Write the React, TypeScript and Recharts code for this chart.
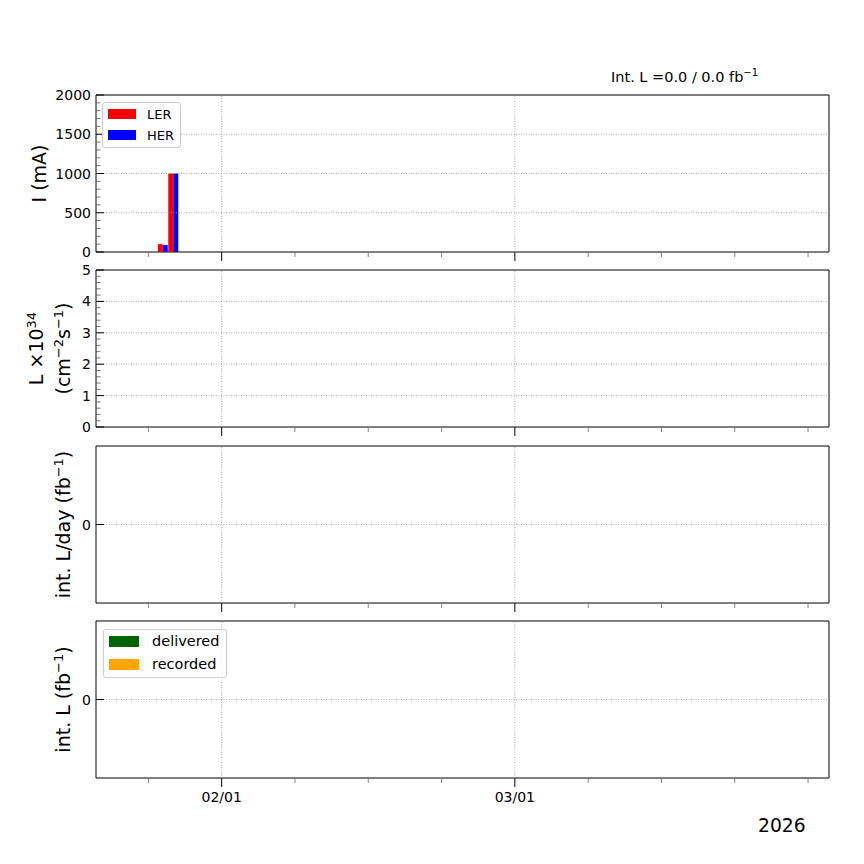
import type { ReactNode } from "react"
import {
  Bar,
  BarChart,
  Legend,
  ReferenceArea,
  ReferenceLine,
  XAxis,
  YAxis,
} from "recharts"

const FONT = "DejaVu Sans"
const INK = "#000"

// x is days counted from 2026-01-01 (day 0)
const xDomain: [number, number] = [19, 89]
const weekTicks = [24, 31, 38, 45, 52, 59, 66, 73, 80, 87]
const monthTicks = [31, 59]

// beam current (mA)
const currentDays = [25.4, 26.4]
const lerCurrent = [100, 1000]
const herCurrent = [88, 1000]

// luminosity / daily / integrated: nothing yet
const lumiDays: number[] = []
const lumiValues: number[] = []
const dailyDays: number[] = []
const dailyDelivered: number[] = []
const dailyRecorded: number[] = []
const intDays: number[] = []
const intDelivered: number[] = []
const intRecorded: number[] = []

const iTicks = [0, 500, 1000, 1500, 2000]
const lTicks = [0, 1, 2, 3, 4, 5]
const zeroTicks = [0]

const intLDelivered = "0.0"
const intLRecorded = "0.0"
const yearLabel = "2026"

const currentData = currentDays.map((day, i) => ({
  day,
  ler: lerCurrent[i],
  her: herCurrent[i],
}))
const lumiData = lumiDays.map((day, i) => ({ day, lumi: lumiValues[i] }))
const dailyData = dailyDays.map((day, i) => ({
  day,
  delivered: dailyDelivered[i],
  recorded: dailyRecorded[i],
}))
const intData = intDays.map((day, i) => ({
  day,
  delivered: intDelivered[i],
  recorded: intRecorded[i],
}))

const steps = (from: number, to: number, step: number) => {
  const out: number[] = []
  for (let v = from; v <= to + 1e-9; v += step) out.push(Math.round(v * 1000) / 1000)
  return out
}

const fmtDate = (d: number) => {
  const dt = new Date(2026, 0, 1 + d)
  const mm = String(dt.getMonth() + 1).padStart(2, "0")
  const dd = String(dt.getDate()).padStart(2, "0")
  return `${mm}/${dd}`
}

const PLOT_H = 157
const MARGIN = { top: 10, right: 35, bottom: 0, left: 0 }

const yTick = (majors: number[]) => (props: any) => {
  const { x, y, payload } = props
  const v = payload.value
  const major = majors.some((m) => Math.abs(m - v) < 1e-9)
  return (
    <g>
      <line
        x1={x}
        x2={x + (major ? 8 : 4.5)}
        y1={y}
        y2={y}
        stroke={major ? INK : "#555"}
        strokeWidth={major ? 1 : 0.8}
      />
      {major && (
        <text x={x - 5} y={y + 5} textAnchor="end" fontSize={14} fontFamily={FONT} fill={INK}>
          {v}
        </text>
      )}
    </g>
  )
}

const xTick = (showDates: boolean) => (props: any) => {
  const { x, y, payload } = props
  const major = monthTicks.includes(payload.value)
  return (
    <g>
      <line
        x1={x}
        x2={x}
        y1={y}
        y2={y + (major ? 9 : 5)}
        stroke={major ? INK : "#666"}
        strokeWidth={major ? 1 : 0.8}
      />
      {showDates && major && (
        <text x={x} y={y + 24} textAnchor="middle" fontSize={14} fontFamily={FONT} fill={INK}>
          {fmtDate(payload.value)}
        </text>
      )}
    </g>
  )
}

const yLabel = (lines: ReactNode[], xs: number[]) => () => {
  const cy = MARGIN.top + PLOT_H / 2
  return (
    <g>
      {lines.map((l, i) => (
        <text
          key={i}
          x={xs[i]}
          y={cy}
          transform={`rotate(-90 ${xs[i]} ${cy})`}
          textAnchor="middle"
          fontSize={19}
          fontFamily={FONT}
          fill={INK}
        >
          {l}
        </text>
      ))}
    </g>
  )
}

interface LegendOpts {
  order: string[]
  w: number
  h: number
  rowH: number
  padTop: number
  patchW: number
  patchH: number
  gap: number
  fontSize: number
}

const legendBox = (o: LegendOpts) => (props: any) => {
  const items = [...(props.payload || [])].sort(
    (a: any, b: any) => o.order.indexOf(a.value) - o.order.indexOf(b.value)
  )
  return (
    <div
      style={{
        boxSizing: "border-box",
        width: o.w,
        height: o.h,
        border: "1px solid #ccc",
        borderRadius: 3,
        background: "rgba(255,255,255,0.8)",
        paddingTop: o.padTop,
        fontFamily: FONT,
        fontSize: o.fontSize,
        color: INK,
        lineHeight: 1,
      }}
    >
      {items.map((p: any) => (
        <div key={p.value} style={{ display: "flex", alignItems: "center", height: o.rowH }}>
          <span
            style={{
              display: "inline-block",
              width: o.patchW,
              height: o.patchH,
              background: p.color,
              marginLeft: 5,
              marginRight: o.gap,
            }}
          />
          <span>{p.value}</span>
        </div>
      ))}
    </div>
  )
}

interface PanelProps {
  top: number
  data: any[]
  yDomain: [number, number]
  yTicks: number[]
  majors: number[]
  label: ReactNode
  showDates?: boolean
  children?: ReactNode
}

function Panel({ top, data, yDomain, yTicks, majors, label, showDates, children }: PanelProps) {
  const xH = showDates ? 40 : 14
  return (
    <div style={{ position: "absolute", left: 0, top: top - MARGIN.top }}>
      <BarChart
        width={864}
        height={MARGIN.top + PLOT_H + xH}
        data={data}
        margin={MARGIN}
        barGap={0}
        barCategoryGap={0}
      >
        <XAxis
          dataKey="day"
          type="number"
          domain={xDomain}
          ticks={weekTicks}
          interval={0}
          allowDataOverflow
          axisLine={false}
          tickLine={false}
          tickSize={0}
          tickMargin={0}
          height={xH}
          tick={xTick(!!showDates)}
        />
        <YAxis
          type="number"
          domain={yDomain}
          ticks={yTicks}
          interval={0}
          allowDataOverflow
          axisLine={false}
          tickLine={false}
          tickSize={0}
          tickMargin={0}
          width={96}
          tick={yTick(majors)}
          label={label as any}
        />
        {monthTicks.map((m) => (
          <ReferenceLine key={`x${m}`} x={m} stroke="#999" strokeWidth={0.8} strokeDasharray="1 1.5" />
        ))}
        {majors
          .filter((m) => m > yDomain[0] && m < yDomain[1])
          .map((m) => (
            <ReferenceLine key={`y${m}`} y={m} stroke="#999" strokeWidth={0.8} strokeDasharray="1 1.5" />
          ))}
        {children}
        <ReferenceArea
          x1={xDomain[0]}
          x2={xDomain[1]}
          y1={yDomain[0]}
          y2={yDomain[1]}
          fill="none"
          fillOpacity={0}
          stroke={INK}
          strokeWidth={1}
        />
      </BarChart>
    </div>
  )
}

const up = (t: string) => (
  <tspan dy={-7} fontSize={13}>
    {t}
  </tspan>
)
const down = (t: string) => <tspan dy={7}>{t}</tspan>

export default function App() {
  return (
    <div
      style={{
        position: "absolute",
        left: 0,
        top: 0,
        width: 864,
        height: 864,
        background: "#fff",
        overflow: "hidden",
      }}
    >
      <Panel
        top={95}
        data={currentData}
        yDomain={[0, 2000]}
        yTicks={steps(0, 2000, 100)}
        majors={iTicks}
        label={yLabel(["I (mA)"], [46])}
      >
        <Bar dataKey="ler" name="LER" fill="#ff0000" barSize={5} isAnimationActive={false} />
        <Bar dataKey="her" name="HER" fill="#0000ff" barSize={5} isAnimationActive={false} />
        <Legend
          verticalAlign="middle"
          align="center"
          layout="horizontal"
          content={legendBox({
            order: ["LER", "HER"],
            w: 79,
            h: 46,
            rowH: 21,
            padTop: 0.5,
            patchW: 28,
            patchH: 10,
            gap: 11,
            fontSize: 13,
          })}
          wrapperStyle={{ left: 102, top: 102 - 95 + MARGIN.top, width: 79, height: 46 }}
        />
      </Panel>
      <Panel
        top={270}
        data={lumiData}
        yDomain={[0, 5]}
        yTicks={steps(0, 5, 0.2)}
        majors={lTicks}
        label={yLabel(
          [
            <>
              {"L ×10"}
              {up("34")}
            </>,
            <>
              {"(cm"}
              {up("−2")}
              {down("s")}
              {up("−1")}
              {down(")")}
            </>,
          ],
          [43, 70]
        )}
      >
        <Bar dataKey="lumi" name="L" fill="#0000ff" barSize={5} isAnimationActive={false} />
      </Panel>
      <Panel
        top={446}
        data={dailyData}
        yDomain={[-1, 1]}
        yTicks={zeroTicks}
        majors={zeroTicks}
        label={yLabel(
          [
            <>
              {"int. L/day (fb"}
              {up("−1")}
              {down(")")}
            </>,
          ],
          [70]
        )}
      >
        <Bar dataKey="delivered" name="delivered" fill="#006400" barSize={5} isAnimationActive={false} />
        <Bar dataKey="recorded" name="recorded" fill="#ffa500" barSize={5} isAnimationActive={false} />
      </Panel>
      <Panel
        top={621}
        data={intData}
        yDomain={[-1, 1]}
        yTicks={zeroTicks}
        majors={zeroTicks}
        showDates
        label={yLabel(
          [
            <>
              {"int. L (fb"}
              {up("−1")}
              {down(")")}
            </>,
          ],
          [70]
        )}
      >
        <Bar dataKey="delivered" name="delivered" fill="#006400" barSize={5} isAnimationActive={false} />
        <Bar dataKey="recorded" name="recorded" fill="#ffa500" barSize={5} isAnimationActive={false} />
        <Legend
          verticalAlign="middle"
          align="center"
          layout="horizontal"
          content={legendBox({
            order: ["delivered", "recorded"],
            w: 124,
            h: 49,
            rowH: 22.5,
            padTop: 0.25,
            patchW: 30,
            patchH: 11,
            gap: 13,
            fontSize: 14.5,
          })}
          wrapperStyle={{ left: 103, top: 629 - 621 + MARGIN.top, width: 124, height: 49 }}
        />
      </Panel>
      <svg
        width={864}
        height={864}
        style={{ position: "absolute", left: 0, top: 0, pointerEvents: "none" }}
      >
        <text x={611} y={82} fontSize={14.5} fontFamily={FONT} fill={INK}>
          {`Int. L =${intLDelivered} / ${intLRecorded} fb`}
          <tspan dy={-6} fontSize={10}>
            −1
          </tspan>
        </text>
        <text x={758} y={832} fontSize={18.7} fontFamily={FONT} fill={INK}>
          {yearLabel}
        </text>
      </svg>
    </div>
  )
}
